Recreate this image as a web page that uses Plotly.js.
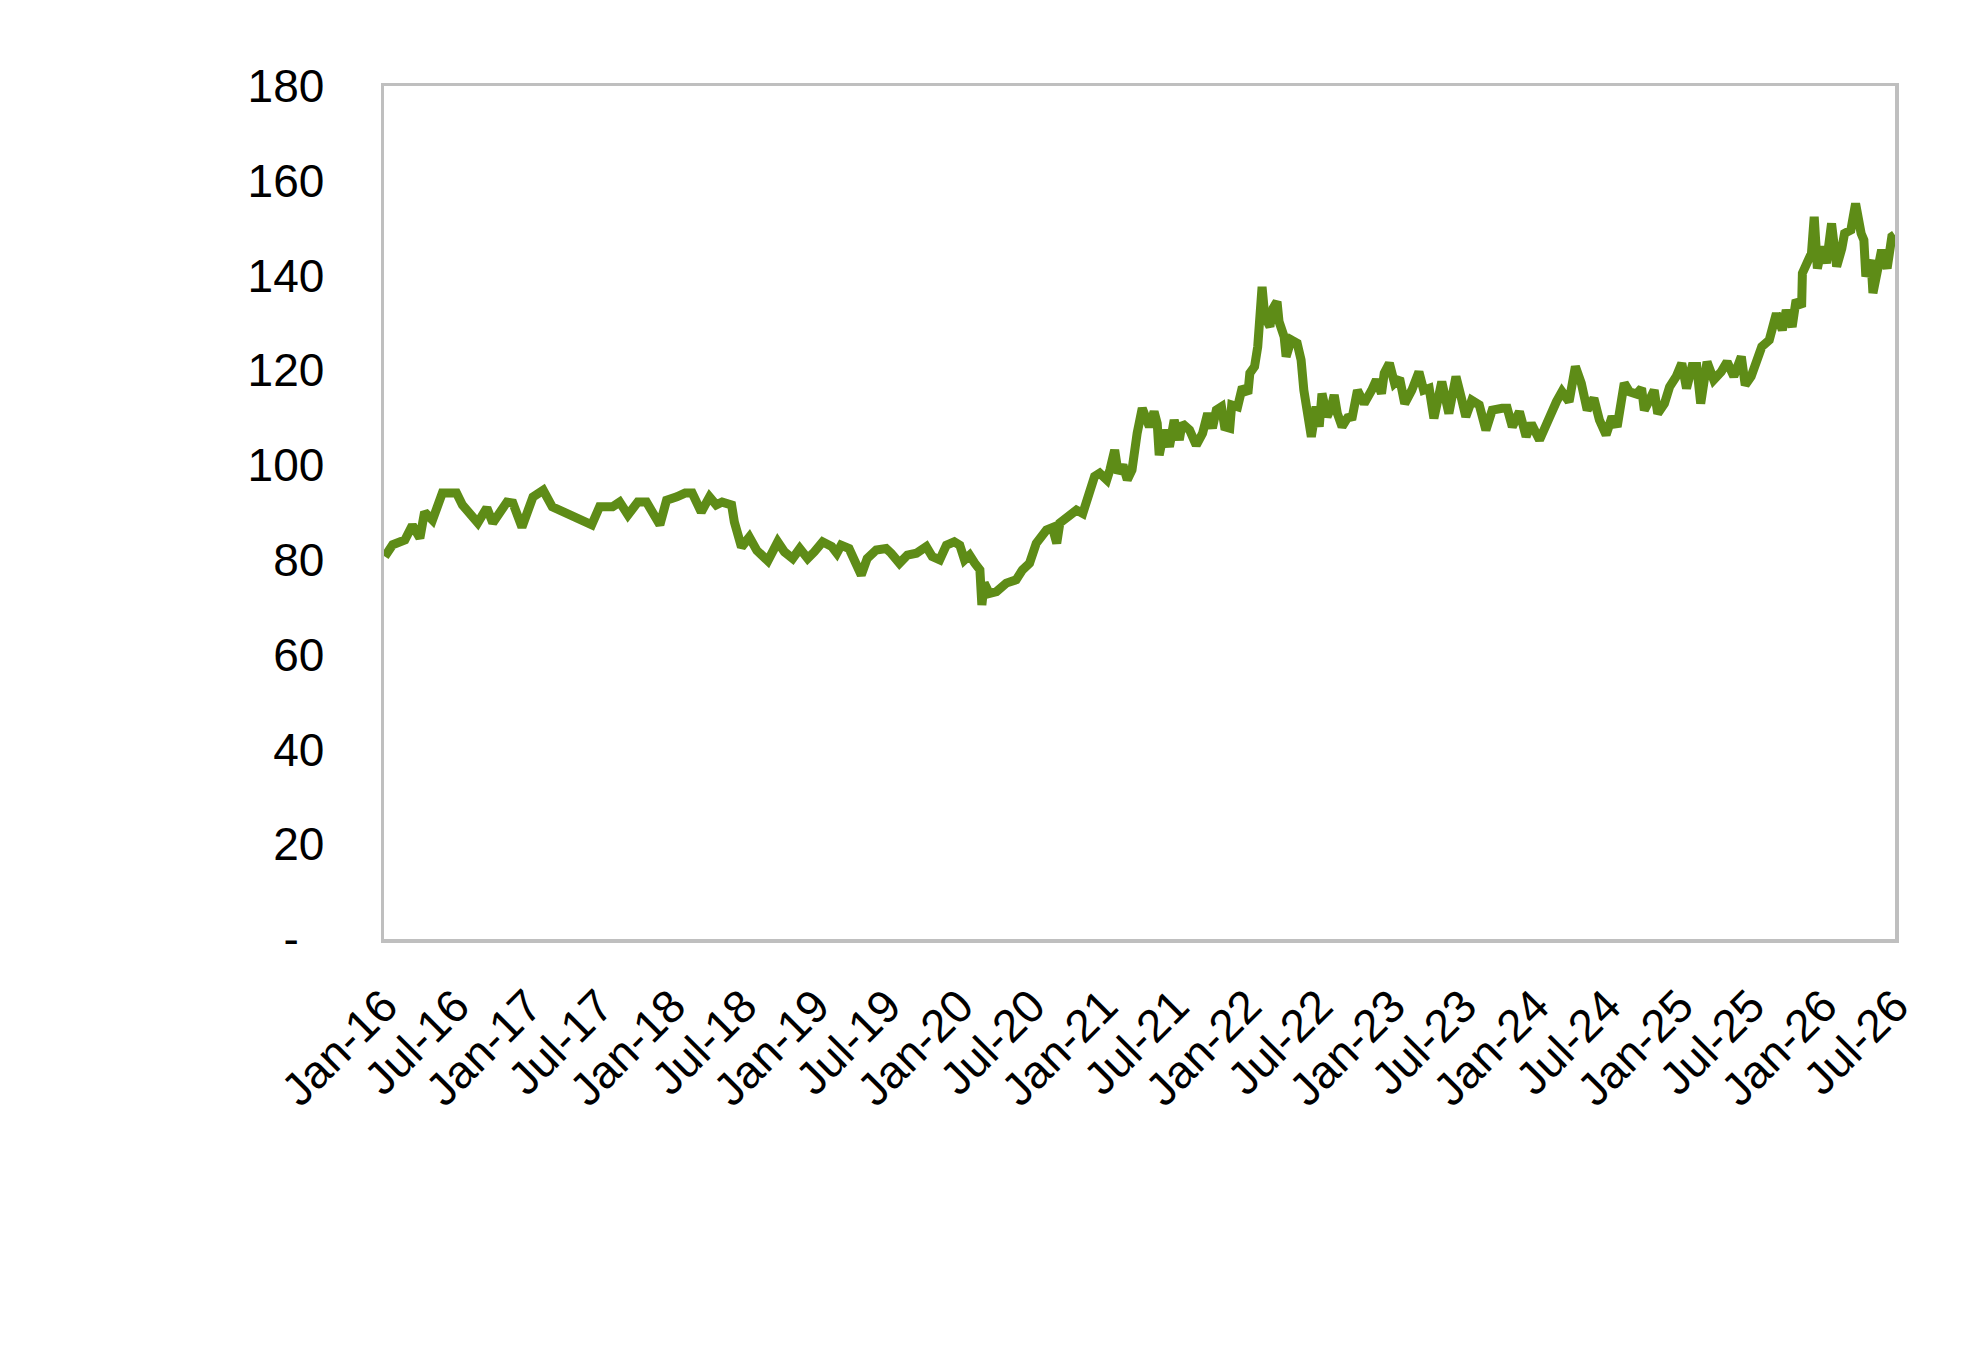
<!DOCTYPE html>
<html>
<head>
<meta charset="utf-8">
<script src="https://cdn.plot.ly/plotly-3.0.1.min.js"></script>
<style>
  html, body { margin: 0; padding: 0; background: #ffffff; }
  #chart { width: 1979px; height: 1352px; }
</style>
</head>
<body>
<div id="chart"></div>
<script>
// values
var dates = [
  "2016-01-03","2016-01-23","2016-02-23","2016-03-13","2016-04-01","2016-04-13","2016-05-03","2016-05-28",
  "2016-07-03","2016-07-18","2016-08-26","2016-09-18","2016-10-03","2016-11-08","2016-11-23","2016-12-16",
  "2017-01-13","2017-02-08","2017-03-03","2017-04-23","2017-06-11","2017-07-01","2017-08-03","2017-08-21",
  "2017-09-11","2017-10-06","2017-10-28","2017-12-01","2017-12-18","2018-01-13","2018-02-03","2018-02-21",
  "2018-03-16","2018-04-06","2018-04-23","2018-05-08","2018-06-01","2018-06-08","2018-06-26","2018-07-16",
  "2018-08-04","2018-09-01","2018-09-26","2018-10-13","2018-11-03","2018-11-21","2018-12-11","2018-12-28",
  "2019-01-18","2019-02-10","2019-02-23","2019-03-06","2019-03-26","2019-04-26","2019-05-11","2019-06-03",
  "2019-06-28","2019-07-11","2019-08-01","2019-08-21","2019-09-13","2019-10-08","2019-10-23","2019-11-11",
  "2019-11-28","2019-12-18","2020-01-01","2020-01-13","2020-01-26","2020-02-08","2020-02-21","2020-02-26",
  "2020-03-03","2020-03-16","2020-04-03","2020-04-28","2020-05-23","2020-06-08","2020-06-26","2020-07-13",
  "2020-08-08","2020-08-23","2020-09-03","2020-09-11","2020-10-23","2020-11-08","2020-11-21","2020-12-08",
  "2020-12-21","2021-01-08","2021-01-16","2021-01-28","2021-02-06","2021-02-18","2021-03-01","2021-03-13",
  "2021-03-26","2021-04-08","2021-04-26","2021-05-08","2021-05-16","2021-05-21","2021-06-03","2021-06-16",
  "2021-06-28","2021-07-11","2021-07-18","2021-08-06","2021-08-23","2021-09-08","2021-09-21","2021-10-03",
  "2021-10-13","2021-10-26","2021-11-03","2021-11-16","2021-11-21","2021-12-06","2021-12-18","2022-01-01",
  "2022-01-06","2022-01-18","2022-01-26","2022-02-01","2022-02-06","2022-02-13","2022-02-26","2022-03-03",
  "2022-03-16","2022-03-21","2022-04-03","2022-04-08","2022-04-21","2022-05-06","2022-05-16","2022-05-23",
  "2022-06-01","2022-06-11","2022-06-23","2022-07-01","2022-07-08","2022-07-21","2022-08-01","2022-08-08",
  "2022-08-16","2022-08-28","2022-09-11","2022-09-23","2022-10-06","2022-10-23","2022-11-11","2022-11-23",
  "2022-12-06","2022-12-13","2022-12-26","2023-01-08","2023-01-21","2023-02-03","2023-02-21","2023-03-11",
  "2023-03-23","2023-04-06","2023-04-18","2023-05-08","2023-05-26","2023-06-13","2023-06-26","2023-07-08",
  "2023-07-23","2023-08-11","2023-08-28","2023-09-13","2023-10-08","2023-10-21","2023-11-03","2023-11-21",
  "2023-12-08","2023-12-21","2024-01-11","2024-01-23","2024-02-06","2024-02-23","2024-03-08","2024-03-26",
  "2024-04-11","2024-04-26","2024-05-11","2024-05-28","2024-06-11","2024-06-28","2024-07-13","2024-07-26",
  "2024-08-13","2024-08-26","2024-09-13","2024-09-26","2024-10-03","2024-10-16","2024-10-28","2024-11-06",
  "2024-11-23","2024-12-06","2024-12-23","2025-01-06","2025-01-18","2025-02-01","2025-02-13","2025-02-23",
  "2025-03-03","2025-03-11","2025-03-28","2025-04-16","2025-05-01","2025-05-18","2025-06-06","2025-06-16",
  "2025-07-01","2025-07-13","2025-07-28","2025-08-16","2025-09-03","2025-09-18","2025-09-28","2025-10-13",
  "2025-10-23","2025-11-06","2025-11-08","2025-11-21","2025-12-01","2025-12-08","2025-12-16","2025-12-28",
  "2026-01-08","2026-01-21","2026-02-03","2026-02-16","2026-02-23","2026-03-11","2026-03-23","2026-04-06",
  "2026-04-13","2026-04-18","2026-05-01","2026-05-06","2026-05-16","2026-05-28","2026-06-11","2026-06-23",
  "2026-06-30"
];

var prices = [
  80.7, 83.2, 84.2, 87.3, 84.6, 90.1, 88.4, 94.1,
  94.1, 91.6, 87.8, 91.0, 87.8, 92.2, 92.0, 86.9,
  93.3, 94.7, 91.2, 89.5, 87.4, 91.2, 91.2, 92.2,
  89.5, 92.2, 92.2, 87.4, 92.6, 93.3, 94.1, 94.1,
  90.1, 93.3, 91.6, 92.2, 91.6, 88.0, 82.7, 84.8,
  82.0, 79.8, 83.8, 81.7, 80.3, 82.4, 80.3, 81.7,
  83.8, 82.8, 81.4, 83.1, 82.4, 76.8, 80.3, 82.1,
  82.4, 81.4, 79.3, 81.0, 81.4, 82.8, 80.7, 80.0,
  83.1, 83.8, 83.1, 80.0, 81.0, 79.3, 77.9, 70.5,
  75.1, 72.9, 73.3, 75.1, 75.8, 77.9, 79.3, 83.5,
  86.3, 86.8, 83.5, 87.8, 90.5, 89.8, 93.3, 97.6,
  98.3, 96.9, 99.0, 103.2, 98.3, 100.0, 96.9, 99.0,
  106.7, 112.0, 108.1, 111.3, 108.8, 102.1, 107.4, 103.9,
  109.5, 105.3, 108.8, 107.4, 104.2, 106.7, 110.9, 107.8,
  111.6, 112.3, 108.1, 107.8, 112.7, 112.3, 116.5, 115.1,
  119.4, 120.8, 125.0, 130.6, 137.6, 131.3, 129.2, 132.7,
  134.5, 130.3, 127.1, 122.9, 126.4, 125.7, 122.2, 115.8,
  109.5, 106.0, 112.3, 108.1, 115.1, 110.2, 112.3, 114.8,
  110.9, 108.1, 110.0, 110.2, 115.8, 113.0, 115.8, 118.0,
  115.1, 119.4, 121.5, 117.3, 118.3, 113.0, 115.8, 119.7,
  115.8, 116.2, 109.9, 117.6, 110.9, 118.7, 114.4, 110.2,
  113.7, 112.7, 107.4, 111.6, 112.0, 112.0, 108.1, 111.3,
  106.0, 108.8, 105.3, 108.1, 110.2, 113.4, 115.5, 113.4,
  120.8, 117.3, 111.6, 114.1, 109.5, 106.4, 110.2, 108.1,
  117.3, 115.5, 115.0, 116.2, 111.6, 113.7, 115.8, 110.9,
  113.0, 116.5, 118.7, 121.5, 116.2, 120.8, 120.8, 113.0,
  119.7, 121.8, 118.0, 119.7, 121.8, 118.7, 122.9, 116.9,
  118.7, 121.8, 125.0, 126.4, 132.0, 128.5, 132.7, 129.2,
  134.8, 133.4, 140.5, 142.9, 144.7, 152.4, 141.5, 146.1,
  142.6, 151.0, 141.9, 145.7, 148.9, 149.6, 155.2, 148.9,
  147.5, 139.8, 143.3, 136.3, 141.9, 145.4, 141.5, 148.2,
  148.6
];

// x axis: one label every six months
var tickDates = [
  "2016-01-01","2016-07-01","2017-01-01","2017-07-01","2018-01-01","2018-07-01",
  "2019-01-01","2019-07-01","2020-01-01","2020-07-01","2021-01-01","2021-07-01",
  "2022-01-01","2022-07-01","2023-01-01","2023-07-01","2024-01-01","2024-07-01",
  "2025-01-01","2025-07-01","2026-01-01","2026-07-01"
];
var tickLabels = [
  "Jan-16","Jul-16","Jan-17","Jul-17","Jan-18","Jul-18",
  "Jan-19","Jul-19","Jan-20","Jul-20","Jan-21","Jul-21",
  "Jan-22","Jul-22","Jan-23","Jul-23","Jan-24","Jul-24",
  "Jan-25","Jul-25","Jan-26","Jul-26"
];

// y axis, zero shown as a dash
var yTicks = [0, 20, 40, 60, 80, 100, 120, 140, 160, 180];
var yLabels = ["-\u00a0\u00a0", "20", "40", "60", "80", "100", "120", "140", "160", "180"];

var font_family = "Liberation Sans, Arial, sans-serif";

var trace = {
  type: "scatter",
  mode: "lines",
  x: dates,
  y: prices,
  line: { color: "#5e8c17", width: 9 },
  hoverinfo: "x+y"
};

var layout = {
  width: 1979,
  height: 1352,
  paper_bgcolor: "#ffffff",
  plot_bgcolor: "#ffffff",
  showlegend: false,
  margin: { l: 384, r: 84, t: 86, b: 413, pad: 0 },
  font: { family: font_family, size: 46, color: "#000000" },
  xaxis: {
    type: "date",
    range: ["2016-01-01", "2026-07-01"],
    tickvals: tickDates,
    ticktext: tickLabels,
    tickangle: -45,
    tickfont: { family: font_family, size: 46, color: "#000000" },
    ticks: "",
    ticklabelstandoff: 18,
    showgrid: false,
    zeroline: false,
    showline: true,
    mirror: true,
    linecolor: "#bfbfbf",
    linewidth: 3.5,
    fixedrange: true
  },
  yaxis: {
    range: [0, 180],
    tickvals: yTicks,
    ticktext: yLabels,
    tickfont: { family: font_family, size: 46, color: "#000000" },
    ticks: "",
    ticklabelstandoff: 47,
    showgrid: false,
    zeroline: false,
    showline: true,
    mirror: true,
    linecolor: "#bfbfbf",
    linewidth: 3.5,
    fixedrange: true
  }
};

var config = { displayModeBar: false, staticPlot: true };

Plotly.newPlot("chart", [trace], layout, config);
</script>
</body>
</html>
